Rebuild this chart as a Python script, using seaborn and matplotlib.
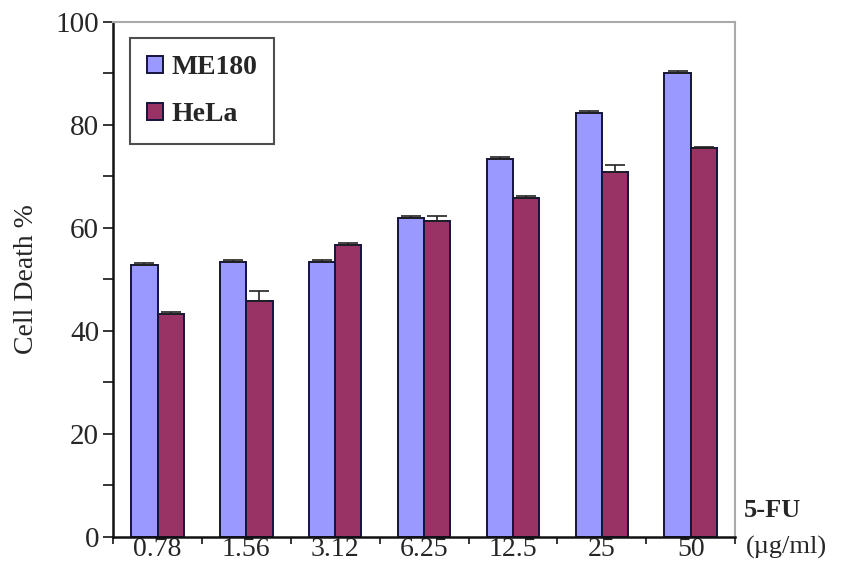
import pandas as pd
import numpy as np
import matplotlib
matplotlib.use("Agg")
import matplotlib.pyplot as plt
import seaborn as sns
from matplotlib.ticker import MultipleLocator, FixedLocator

# Data
doses = ["0.78", "1.56", "3.12", "6.25", "12.5", "25", "50"]
me180 = [52.8, 53.4, 53.4, 61.9, 73.4, 82.3, 90.1]
me180_err = [0.4, 0.3, 0.3, 0.4, 0.4, 0.4, 0.4]
hela = [43.3, 45.8, 56.7, 61.4, 65.8, 70.9, 75.5]
hela_err = [0.3, 2.0, 0.3, 1.0, 0.4, 1.4, 0.3]
lines = ["ME180", "HeLa"]

df = pd.DataFrame({
    "dose": doses * 2,
    "death": me180 + hela,
    "line": [lines[0]] * len(doses) + [lines[1]] * len(doses),
})

sns.set_style("ticks")
plt.rcParams["font.family"] = ["Liberation Serif", "DejaVu Serif"]

fig = plt.figure(figsize=(8.44, 5.64), dpi=100)
ax = fig.add_axes([0.134, 0.048, 0.737, 0.913])

pal = {"ME180": "#9999FF", "HeLa": "#993366"}
sns.barplot(data=df, x="dose", y="death", hue="line", order=doses,
            hue_order=lines, palette=pal, width=0.59, gap=0,
            edgecolor="#14143c", linewidth=1.4, saturation=1,
            errorbar=None, ax=ax)

# error bars on top of each bar (upper side only)
errs = me180_err + hela_err
for bar, e in zip(ax.patches[:len(errs)], errs):
    xc = bar.get_x() + bar.get_width() / 2
    ax.errorbar(xc, bar.get_height(), yerr=[[0], [e]], fmt="none",
                ecolor="#222222", elinewidth=1.2, capsize=7, capthick=1.2)

ax.set_ylim(0, 100)
ax.set_xlim(-0.5, len(doses) - 0.5)
ax.yaxis.set_major_locator(MultipleLocator(20))
ax.yaxis.set_minor_locator(MultipleLocator(10))
ax.xaxis.set_major_locator(FixedLocator(range(len(doses))))
ax.xaxis.set_minor_locator(FixedLocator(np.arange(-0.5, len(doses), 1.0)))
ax.tick_params(axis="x", which="major", length=0, labelsize=20, pad=0)
ax.tick_params(axis="x", which="minor", length=5, width=1.3, direction="out")
ax.tick_params(axis="y", which="major", length=7, width=1.3, labelsize=21, pad=3)
ax.tick_params(axis="y", which="minor", length=7, width=1.3)
ax.set_xticklabels(doses)

ax.set_xlabel("")
ax.set_ylabel("Cell Death %", fontsize=20, labelpad=12)

for s in ["left", "bottom"]:
    ax.spines[s].set_linewidth(1.8)
    ax.spines[s].set_color("#111111")
for s in ["top", "right"]:
    ax.spines[s].set_visible(True)
    ax.spines[s].set_linewidth(1.5)
    ax.spines[s].set_color("#aaaaaa")

leg = ax.legend(loc="upper left", bbox_to_anchor=(0.005, 0.995), frameon=True,
                fancybox=False, edgecolor="#222222", handlelength=0.6,
                handleheight=0.6, handletextpad=0.3, labelspacing=0.8,
                borderpad=0.6, prop={"weight": "bold", "size": 20})
leg.get_frame().set_linewidth(1.5)

fig.text(0.915, 0.075, "5-FU", fontsize=19, fontweight="bold", ha="center", va="bottom")
fig.text(0.932, 0.008, "(\u00b5g/ml)", fontsize=19, ha="center", va="bottom")

fig.savefig("out.png", dpi=100)
